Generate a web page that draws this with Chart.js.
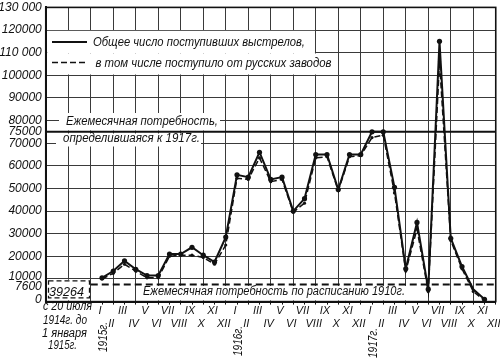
<!DOCTYPE html>
<html><head><meta charset="utf-8">
<script src="https://cdn.jsdelivr.net/npm/chart.js@4/dist/chart.umd.min.js"></script>
<style>html,body{margin:0;padding:0;background:#fff}canvas{display:block}</style>
</head><body>
<canvas id="c" width="500" height="361"></canvas>
<script>
// ---- data ----
const ROMAN = ['I','II','III','IV','V','VI','VII','VIII','IX','X','XI','XII'];
const monthLabels = ROMAN.concat(ROMAN, ROMAN);           // Jan 1915 .. Dec 1917
const yearLabels = ['1915г.', '1916г.', '1917г.'];
// Общее число поступивших выстрелов (Jan 1915 .. Nov 1917)
const totalShells = [
  10500, 13500, 18000, 14300, 11500, 11500, 21000, 21000, 24000, 20500, 17500, 28500,
  56000, 55000, 66000, 54000, 55000, 40000, 45500, 65000, 65000, 49500, 65000, 65000,
  75000, 75000, 50500, 14500, 35000, 5500, 115000, 28000, 15500, 5500, 1000
];
// в том числе поступило от русских заводов
const russianShells = [
  10000, 12500, 16500, 13500, 10500, 10500, 20000, 20500, 20500, 19500, 16500, 25000,
  54500, 54000, 63500, 53000, 54000, 39500, 43500, 63500, 64000, 49000, 64000, 64500,
  72500, 73500, 48000, 13500, 32000, 4500, 106000, 27000, 14500, 4500, 500
];
const yTickValues = [0, 7600, 10000, 20000, 30000, 40000, 50000, 60000, 70000, 75000,
  80000, 90000, 100000, 110000, 120000, 130000];
const yTickText = {0:'0', 7600:'7600', 10000:'10000', 20000:'20000', 30000:'30000',
  40000:'40000', 50000:'50000', 60000:'60000', 70000:'70000', 75000:'75000', 80000:'80000',
  90000:'90000', 100000:'100000', 110000:'110 000', 120000:'120000', 130000:'130 000'};
const need1910 = 7600;
const need1917 = 75000;
const prewarTotal = 39264;
const legendTotal = 'Общее число поступивших выстрелов,';
const legendRussian = 'в том числе поступило от русских заводов';
const need1917Text = ['Ежемесячная потребность,', 'определившаяся к 1917г.'];
const need1910Text = 'Ежемесячная потребность по расписанию 1910г.';
const prewarText = ['с 20 июля', '1914г. до', '1 января', '1915г.'];

// ---- layout constants ----
const OFFSET = 5;          // x units taken by the pre-1915 column
const XMAX = 40;
const INK = '#111';
const GRID = '#3a3a3a';
const FF = '"Liberation Sans", "DejaVu Sans", Arial, sans-serif';

const totalPts = totalShells.map((v, i) => ({x: i + OFFSET, y: v}));
const russianPts = russianShells.map((v, i) => ({x: i + OFFSET, y: v}));

function fitText(ctx, txt, x, y, w, size, rot) {
  ctx.save();
  ctx.font = `italic ${size}px ${FF}`;
  const m = ctx.measureText(txt).width;
  ctx.translate(x, y);
  if (rot) ctx.rotate(rot);
  ctx.scale(w / m, 1);
  ctx.textAlign = rot ? 'center' : 'left';
  ctx.textBaseline = 'middle';
  ctx.fillStyle = INK;
  ctx.fillText(txt, 0, 0);
  ctx.restore();
}

const decor = {
  id: 'decor',
  beforeDatasetsDraw(chart) {
    const {ctx, chartArea: a, scales: {x, y}} = chart;
    ctx.save();
    ctx.fillStyle = '#fff';
    const L = a.left + 1.5;
    const y120 = y.getPixelForValue(120000), y110 = y.getPixelForValue(110000), y100 = y.getPixelForValue(100000);
    const x24 = x.getPixelForValue(24), x26 = x.getPixelForValue(26);
    ctx.fillRect(L, y120 + 0.8, x24 - 0.8 - L, y110 + 0.8 - (y120 + 0.8));
    ctx.fillRect(L, y110 + 0.8, x26 - 0.8 - L, y100 - 0.8 - (y110 + 0.8));
    // annotation backgrounds
    ctx.fillRect(59, 113, 161, 17.5);
    ctx.fillRect(56, 133.5, 145, 13);
    // 1910 text background
    const y76 = y.getPixelForValue(need1910);
    ctx.fillRect(141, y76 + 1.5, 267, a.bottom - 1.2 - (y76 + 1.5));
    // prewar column box
    const y10 = y.getPixelForValue(10000);
    const x4 = x.getPixelForValue(OFFSET - 1);
    ctx.fillRect(L, y10 + 0.8, x4 - 0.8 - L, a.bottom - 1.2 - (y10 + 0.8));
    ctx.restore();
  },
  afterDraw(chart) {
    const {ctx, chartArea: a, scales: {x, y}} = chart;
    ctx.save();
    // frame top/right
    ctx.strokeStyle = INK; ctx.lineWidth = 1.6;
    ctx.strokeRect(a.left, a.top, a.right - a.left, a.bottom - a.top);
    // legend
    ctx.lineWidth = 2;
    ctx.beginPath(); ctx.moveTo(52, 42); ctx.lineTo(87, 42); ctx.stroke();
    ctx.lineWidth = 1.6; ctx.setLineDash([6, 3]);
    ctx.beginPath(); ctx.moveTo(52, 62.5); ctx.lineTo(88, 62.5); ctx.stroke();
    // prewar dashed box
    ctx.setLineDash([5, 3]); ctx.lineWidth = 1.3;
    ctx.strokeRect(48.5, 280.8, 41, 17);
    ctx.setLineDash([]);
    ctx.restore();
    fitText(ctx, legendTotal, 93, 42.5, 212, 13);
    fitText(ctx, legendRussian, 95.5, 63, 236, 13);
    fitText(ctx, need1917Text[0], 66, 122, 152, 12.5);
    fitText(ctx, need1917Text[1], 63, 139, 137, 12.5);
    fitText(ctx, need1910Text, 143, 292, 262, 12);
    fitText(ctx, String(prewarTotal), 49, 292, 35, 13.5);
    fitText(ctx, prewarText[0], 43, 307, 49, 12);
    fitText(ctx, prewarText[1], 43, 321, 44, 12);
    fitText(ctx, prewarText[2], 42, 334, 45, 12);
    fitText(ctx, prewarText[3], 48, 346, 29, 12);
    const yc = [337, 341, 343];
    yearLabels.forEach((t, k) => {
      const px = x.getPixelForValue(OFFSET + 12 * k) + 2;
      fitText(ctx, t, px, yc[k], 30, 12, -Math.PI / 2);
    });
  }
};

new Chart(document.getElementById('c'), {
  type: 'line',
  data: {
    datasets: [
      { data: [{x: 0, y: need1917}, {x: XMAX, y: need1917}], borderColor: INK, borderWidth: 2,
        pointRadius: 0, fill: false, order: 3 },
      { data: [{x: OFFSET - 1, y: need1910}, {x: XMAX, y: need1910}], borderColor: INK, borderWidth: 2,
        borderDash: [7, 4], pointRadius: 0, fill: false, order: 3 },
      { label: legendRussian, data: russianPts, borderColor: INK, borderWidth: 1.5, borderDash: [6, 3],
        pointRadius: 1.6, pointBackgroundColor: INK, pointBorderWidth: 0, fill: false, order: 2 },
      { label: legendTotal, data: totalPts, borderColor: INK, borderWidth: 2,
        pointRadius: (c) => c.dataIndex === 33 ? 0 : 2.6, pointBackgroundColor: INK, pointBorderWidth: 0,
        fill: false, order: 1 }
    ]
  },
  options: {
    responsive: false,
    devicePixelRatio: 1,
    animation: false,
    events: [],
    layout: { padding: { top: 7.4, right: 4.25, left: 0, bottom: 0 } },
    plugins: { legend: { display: false }, tooltip: { enabled: false } },
    scales: {
      x: {
        type: 'linear', min: 0, max: XMAX, offset: false,
        afterBuildTicks(s) { const t = []; for (let v = 0; v <= XMAX; v++) t.push({value: v}); s.ticks = t; },
        afterFit(s) { s.height = 59.4; s.paddingLeft = 0; s.paddingRight = 0; },
        grid: {
          color: (c) => (c.tick && c.tick.value % 2 === 0) ? GRID : 'rgba(0,0,0,0)',
          tickColor: (c) => (c.tick && c.tick.value >= OFFSET) ? INK : 'rgba(0,0,0,0)',
          lineWidth: 1, drawTicks: true, tickLength: 3
        },
        border: { display: true, color: INK, width: 2 },
        ticks: {
          autoSkip: false, maxRotation: 0, minRotation: 0, padding: 0, labelOffset: -2,
          color: INK, font: { family: FF, size: 11, style: 'italic', lineHeight: 1.15 },
          callback: (v) => {
            if (v < OFFSET) return '';
            const i = v - OFFSET;
            return i % 2 === 0 ? monthLabels[i] : ['', monthLabels[i]];
          }
        }
      },
      y: {
        type: 'linear', min: 0, max: 130000,
        afterBuildTicks(s) { s.ticks = yTickValues.map(v => ({value: v})); },
        afterFit(s) { s.width = 45.75; s.paddingTop = 0; s.paddingBottom = 0; },
        grid: {
          color: (c) => (c.tick && (c.tick.value === need1910 || c.tick.value === need1917)) ? 'rgba(0,0,0,0)' : GRID,
          lineWidth: 1, drawTicks: false
        },
        border: { display: true, color: INK, width: 2 },
        ticks: {
          autoSkip: false, padding: 4, color: INK,
          font: (c) => {
            const v = c.tick ? c.tick.value : null;
            let lh = 1.2;
            if (v === 10000) lh = '4px';
            else if (v === need1910) lh = '5px';
            else if (v === 0) lh = '3px';
            return { family: FF, size: 12, style: 'italic', lineHeight: lh };
          },
          callback: (v) => {
            const t = yTickText[v];
            if (v === 10000 || v === 0) return [t, ''];
            if (v === need1910) return ['', t];
            return t;
          }
        }
      }
    }
  },
  plugins: [decor]
});
</script>
</body></html>
